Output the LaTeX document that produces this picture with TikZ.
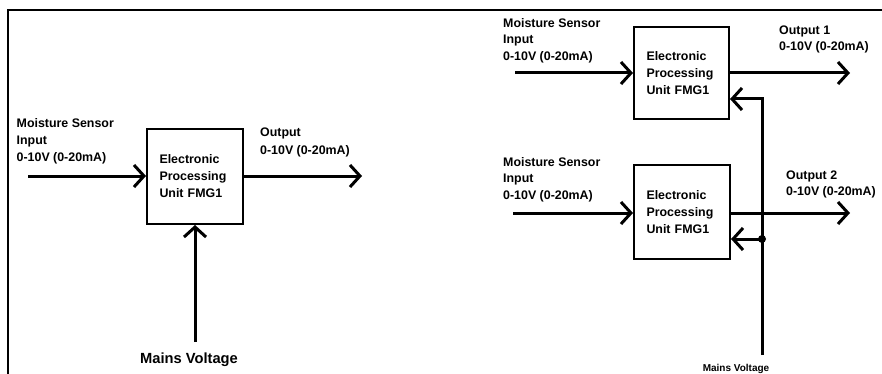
\documentclass[tikz,border=0pt]{standalone}
\usepackage{fontspec}
\setmainfont{Liberation Sans}
\usetikzlibrary{arrows.meta}
\begin{document}
\begin{tikzpicture}[x=1pt,y=-1pt,
  lbl/.style={font=\bfseries\fontsize{12.4}{16.5}\selectfont, align=left, inner sep=0pt, anchor=base west},
  unitbox/.style={draw, line width=2pt, font=\bfseries\fontsize{12.4}{17}\selectfont, align=left,
     text width=71pt, inner xsep=12.5pt, minimum height=95pt},
  sig/.style={line width=3pt, -{Straight Barb[length=10pt,width=22pt]}},
  frame/.style={line width=2pt}]
\useasboundingbox (0,0) rectangle (882,374);
\draw[frame] (8,380) -- (8,10) -- (890,10);

% ---------- left diagram ----------
\node[unitbox] (L) at (195,176.5) {Electronic\\Processing\\Unit FMG1};
\coordinate (Lin) at (28,176);
\coordinate (Lout) at (362,176);
\coordinate (Lmains) at (195,342);
\draw[sig] (Lin) -- (Lin -| L.west);
\draw[sig] (Lout -| L.east) -- (Lout);
\draw[sig] (Lmains) -- (L.south);
\node[lbl] (Lintxt) at (16.5,161) {Moisture Sensor\\Input\\0-10V (0-20mA)};
\node[lbl, font=\bfseries\fontsize{12.4}{17.5}\selectfont] (Louttxt) at (260,154.5) {Output\\0-10V (0-20mA)};
\node[font=\bfseries\fontsize{14.7}{17}\selectfont, inner sep=0pt, anchor=base] (Lmtxt) at (189,363.3) {Mains Voltage};

% ---------- right diagram ----------
\node[unitbox, minimum height=92pt, text width=70pt] (R1) at (681.5,73) {Electronic\\Processing\\Unit FMG1};
\node[unitbox, minimum height=94pt] (R2) at (682,212) {Electronic\\Processing\\Unit FMG1};
\coordinate (R1in) at (515,73);
\coordinate (R1out) at (850,73);
\coordinate (R2in) at (513,213);
\coordinate (R2out) at (850,213);
\coordinate (Rbus) at (762,355);
\coordinate (Rtop) at (762,99);
\coordinate (Rjoin) at (762,239);
\draw[sig] (R1in) -- (R1in -| R1.west);
\draw[sig] (R1out -| R1.east) -- (R1out);
\draw[sig] (R2in) -- (R2in -| R2.west);
\draw[sig] (R2out -| R2.east) -- (R2out);
\draw[sig, line join=miter] (Rbus) -- (Rtop) -- (Rtop -| R1.east);
\draw[sig] (Rjoin) -- (Rjoin -| R2.east);
\fill (Rjoin) circle (4pt);

\node[lbl] (R1intxt) at (503,60.5) {Moisture Sensor\\Input\\0-10V (0-20mA)};
\node[lbl, font=\bfseries\fontsize{12.4}{15.7}\selectfont] (R1outtxt) at (779,50.7) {Output 1\\0-10V (0-20mA)};
\node[lbl] (R2intxt) at (503,199) {Moisture Sensor\\Input\\0-10V (0-20mA)};
\node[lbl, font=\bfseries\fontsize{12.4}{16}\selectfont] (R2outtxt) at (786,195) {Output 2\\0-10V (0-20mA)};
\node[font=\bfseries\fontsize{10}{12}\selectfont, inner sep=0pt, anchor=base] (Rmtxt) at (736,371.7) {Mains Voltage};
\end{tikzpicture}
\end{document}
